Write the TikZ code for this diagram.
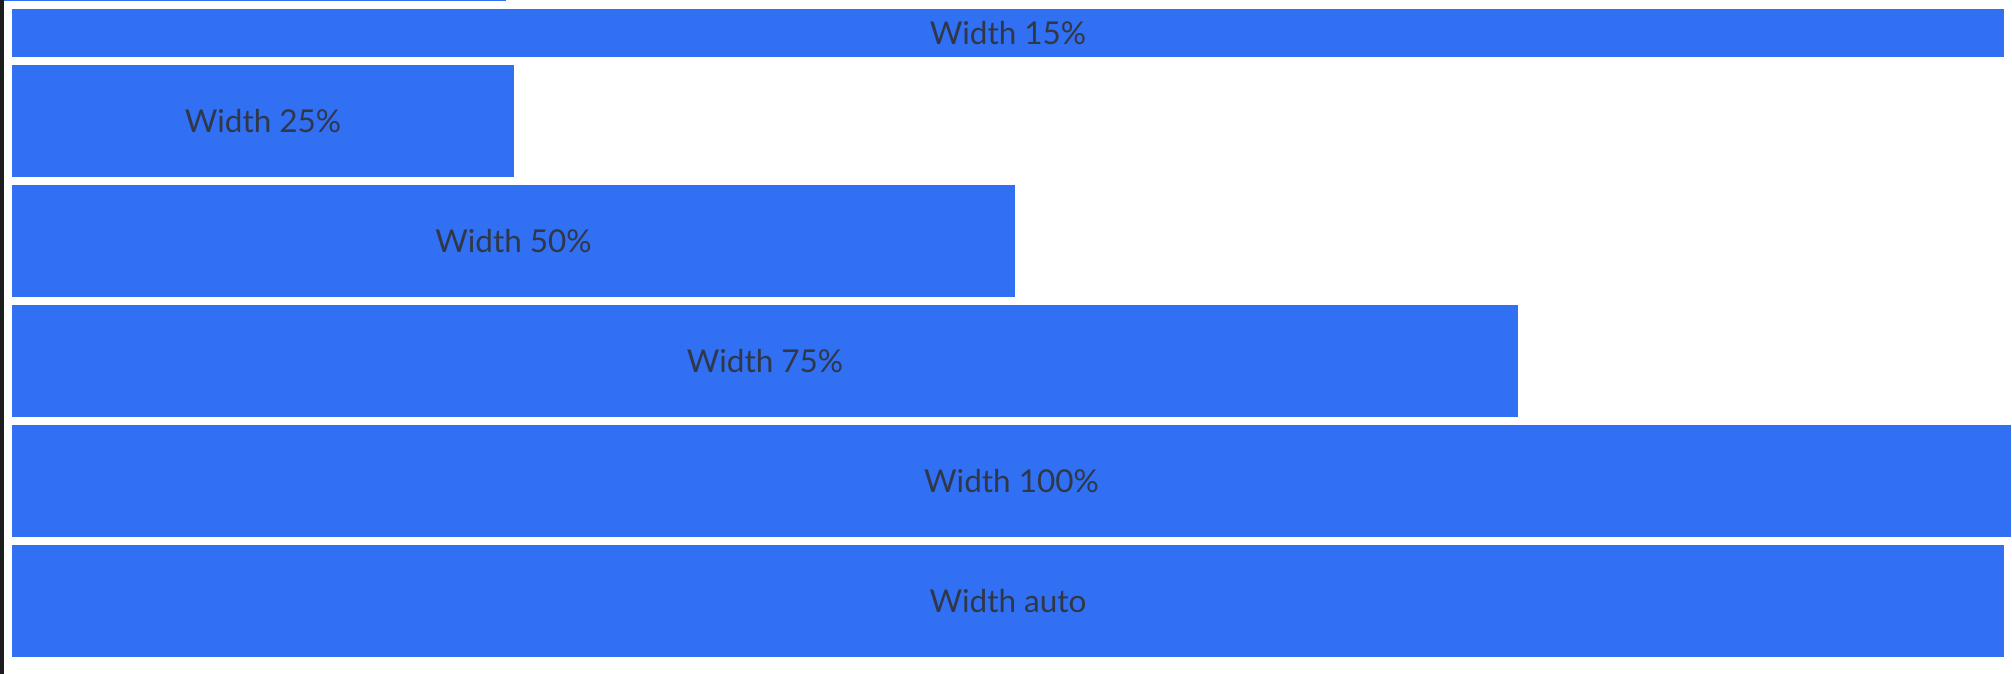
\documentclass[tikz,border=0pt]{standalone}
\usepackage{fontspec}
\setmainfont{Lato}
\definecolor{barblue}{RGB}{49,111,243}
\definecolor{bartext}{RGB}{48,56,72}
\definecolor{edgedark}{RGB}{28,28,30}
\begin{document}
\begin{tikzpicture}[x=1pt,y=-1pt,
  bar/.style={fill=barblue,draw=none},
  lbl/.style={text=bartext,font=\fontsize{31.5}{38}\selectfont,inner sep=0pt,anchor=center}]
\useasboundingbox (0,0) rectangle (2012,674);
\fill[white] (0,0) rectangle (2012,674);
\fill[edgedark] (0,0) rectangle (3.5,674);
\fill[barblue] (4,0) rectangle (506,1.2);
% bars
\path[bar] (12,9) rectangle (2004,56.7) node[midway] (b15) {};
\path[bar] (12,65) rectangle (514,176.7) node[midway] (b25) {};
\path[bar] (12,185) rectangle (1015,296.7) node[midway] (b50) {};
\path[bar] (12,305) rectangle (1518,416.7) node[midway] (b75) {};
\path[bar] (12,425) rectangle (2011,536.7) node[midway] (b100) {};
\path[bar] (12,545) rectangle (2004,656.7) node[midway] (bauto) {};
\node[lbl] (t15) at (1008,32.8) {Width 15\%};
\node[lbl] (t25) at (263,120.8) {Width 25\%};
\node[lbl] (t50) at (513.5,240.8) {Width 50\%};
\node[lbl] (t75) at (765,360.8) {Width 75\%};
\node[lbl] (t100) at (1011.5,480.8) {Width 100\%};
\node[lbl] (tauto) at (1008,600.8) {Width auto};
\end{tikzpicture}
\end{document}
